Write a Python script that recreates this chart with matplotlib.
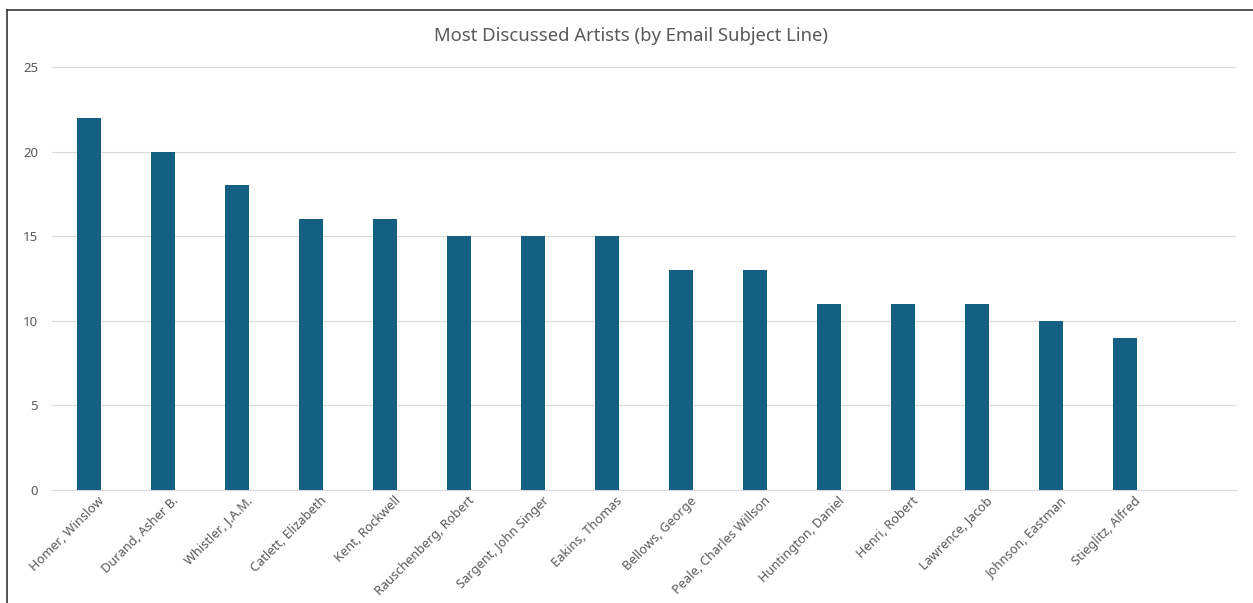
import matplotlib.pyplot as plt
from matplotlib.lines import Line2D
from matplotlib.transforms import ScaledTranslation

artists = ["Homer, Winslow", "Durand, Asher B.", "Whistler, J.A.M.", "Catlett, Elizabeth",
           "Kent, Rockwell", "Rauschenberg, Robert", "Sargent, John Singer", "Eakins, Thomas",
           "Bellows, George", "Peale, Charles Willson", "Huntington, Daniel", "Henri, Robert",
           "Lawrence, Jacob", "Johnson, Eastman", "Stieglitz, Alfred"]
counts = [22, 20, 18, 16, 16, 15, 15, 15, 13, 13, 11, 11, 11, 10, 9]
y_ticks = [0, 5, 10, 15, 20, 25]

plt.rcParams['font.family'] = ['Noto Sans', 'DejaVu Sans']
text_color = "#595959"

fig = plt.figure(figsize=(12.53, 6.03), dpi=100)
ax = fig.add_axes([52 / 1253, 1 - 490 / 603, (1236 - 52) / 1253, (490 - 67) / 603])

x = list(range(len(artists)))
ax.bar(x, counts, width=0.32, color="#156082", zorder=3)
ax.set_xlim(-0.5, 15.5)
ax.set_ylim(0, 25)
ax.set_yticks(y_ticks)
ax.set_xticks(x)
ax.tick_params(axis="y", labelsize=9.5, labelcolor=text_color, length=0, pad=10)
ax.tick_params(axis="x", length=0, pad=3)
ax.set_xticklabels(artists, rotation=45, ha="right", rotation_mode="anchor",
                   fontsize=9.2, color=text_color)
# nudge the rotated labels right, like the spreadsheet does
shift = ScaledTranslation(9 / 100, 0, fig.dpi_scale_trans)
for lbl in ax.get_xticklabels():
    lbl.set_transform(lbl.get_transform() + shift)
ax.grid(axis="y", color="#d9d9d9", linewidth=0.8, zorder=0)
for s in ["top", "right", "left"]:
    ax.spines[s].set_visible(False)
ax.spines["bottom"].set_color("#d9d9d9")
ax.spines["bottom"].set_linewidth(0.8)

fig.text(631 / 1253, 1 - 36 / 603, "Most Discussed Artists (by Email Subject Line)",
         ha="center", va="center", fontsize=13.3, color=text_color)

# frame border seen at top and left of the screenshot
fig.add_artist(Line2D([7 / 1253, 7 / 1253], [0, 1 - 9.5 / 603], color="#333333",
                      linewidth=1.2, transform=fig.transFigure))
fig.add_artist(Line2D([7 / 1253, 1], [1 - 9.5 / 603, 1 - 9.5 / 603], color="#333333",
                      linewidth=1.2, transform=fig.transFigure))

fig.savefig("out.png", dpi=100)
